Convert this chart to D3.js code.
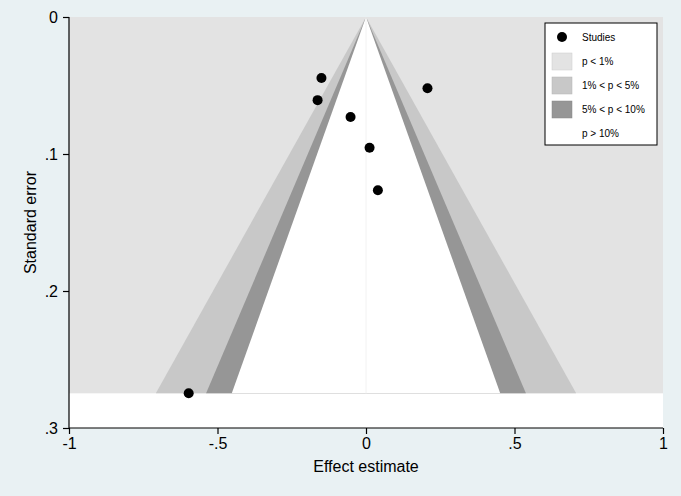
<!DOCTYPE html>
<html>
<head>
<meta charset="utf-8">
<script src="https://cdn.jsdelivr.net/npm/d3@7"></script>
<style>
  body { margin: 0; background: #e9f1f3; }
  svg { display: block; font-family: "Liberation Sans", Arial, sans-serif; }
</style>
</head>
<body>
<div id="chart"></div>
<script>
// study estimates and standard errors
var effect = [-0.15, -0.163, 0.207, -0.052, 0.012, 0.04, -0.597];
var stderr = [0.0445, 0.0607, 0.052, 0.073, 0.0955, 0.1265, 0.2747];
var xTicks = [-1, -0.5, 0, 0.5, 1];
var xTickLabels = ["-1", "-.5", "0", ".5", "1"];
var yTicks = [0, 0.1, 0.2, 0.3];
var yTickLabels = ["0", ".1", ".2", ".3"];
// z cut-offs for 1%, 5%, 10% contours
var zLevels = [2.576, 1.96, 1.645];
var bandColors = ["#c8c8c8", "#969696", "#ffffff"];
var legendLabels = ["Studies", "p < 1%", "1% < p < 5%", "5% < p < 10%", "p > 10%"];
var legendColors = [null, "#e3e3e3", "#c8c8c8", "#969696", "#ffffff"];

var W = 681, H = 496;
var svg = d3.select("#chart").append("svg").attr("width", W).attr("height", H);
svg.append("rect").attr("width", W).attr("height", H).attr("fill", "#e9f1f3");

var x = d3.scaleLinear().domain([-1, 1]).range([69, 663]);
var y = d3.scaleLinear().domain([0, 0.3]).range([17, 428]);
var seMax = d3.max(stderr);

// plot region
svg.append("rect")
    .attr("x", x(-1)).attr("y", y(0))
    .attr("width", x(1) - x(-1)).attr("height", y(0.3) - y(0))
    .attr("fill", "#ffffff");
svg.append("rect")
    .attr("x", x(-1)).attr("y", y(0))
    .attr("width", x(1) - x(-1)).attr("height", y(seMax) - y(0))
    .attr("fill", "#e3e3e3");

zLevels.forEach(function(z, i) {
    var pts = [[0, 0], [-z * seMax, seMax], [z * seMax, seMax]];
    svg.append("path")
        .attr("d", d3.line().x(function(d) { return x(d[0]); }).y(function(d) { return y(d[1]); })(pts) + "Z")
        .attr("fill", bandColors[i]);
});
svg.append("line")
    .attr("x1", x(0)).attr("x2", x(0))
    .attr("y1", y(0)).attr("y2", y(seMax))
    .attr("stroke", "#f2f2f2").attr("stroke-width", 1);

// points
svg.selectAll("circle.study")
    .data(effect)
    .enter().append("circle")
    .attr("class", "study")
    .attr("cx", function(d) { return x(d); })
    .attr("cy", function(d, i) { return y(stderr[i]); })
    .attr("r", 5)
    .attr("fill", "#000");

// axes
var xAxis = svg.append("g")
    .attr("transform", "translate(0," + y(0.3) + ")")
    .call(d3.axisBottom(x).tickValues(xTicks).tickSize(6).tickPadding(4)
        .tickFormat(function(d, i) { return xTickLabels[i]; }));
var yAxis = svg.append("g")
    .attr("transform", "translate(" + x(-1) + ",0)")
    .call(d3.axisLeft(y).tickValues(yTicks).tickSize(6).tickPadding(5)
        .tickFormat(function(d, i) { return yTickLabels[i]; }));

[xAxis, yAxis].forEach(function(a) {
    a.select(".domain").attr("stroke", "#000").attr("stroke-width", 1.2);
    a.selectAll(".tick line").attr("stroke", "#000").attr("stroke-width", 1.2);
    a.selectAll(".tick text").attr("fill", "#000").style("font-size", "16px");
});
xAxis.select(".domain").attr("d", "M" + x(-1) + ",0H" + x(1));
yAxis.select(".domain").attr("d", "M0," + y(0) + "V" + y(0.3));

svg.append("text")
    .attr("x", x(0)).attr("y", 472)
    .attr("text-anchor", "middle")
    .style("font-size", "16px")
    .text("Effect estimate");
svg.append("text")
    .attr("transform", "translate(36," + y(0.15) + ") rotate(-90)")
    .attr("text-anchor", "middle")
    .style("font-size", "16px")
    .text("Standard error");

// legend
var lg = svg.append("g").attr("transform", "translate(545,23)");
lg.append("rect")
    .attr("width", 112).attr("height", 122)
    .attr("fill", "#fff").attr("stroke", "#000").attr("stroke-width", 1);
legendLabels.forEach(function(lab, i) {
    var cy = 14 + i * 24;
    if (i === 0) {
        lg.append("circle").attr("cx", 17).attr("cy", cy).attr("r", 5).attr("fill", "#000");
    } else if (legendColors[i] !== "#ffffff") {
        lg.append("rect")
            .attr("x", 7).attr("y", cy - 8).attr("width", 20).attr("height", 17)
            .attr("fill", legendColors[i]).attr("stroke", d3.color(legendColors[i]).darker(0.3)).attr("stroke-width", 0.5);
    }
    lg.append("text")
        .attr("x", 37).attr("y", cy + 4)
        .style("font-size", "10px")
        .text(lab);
});
</script>
</body>
</html>
